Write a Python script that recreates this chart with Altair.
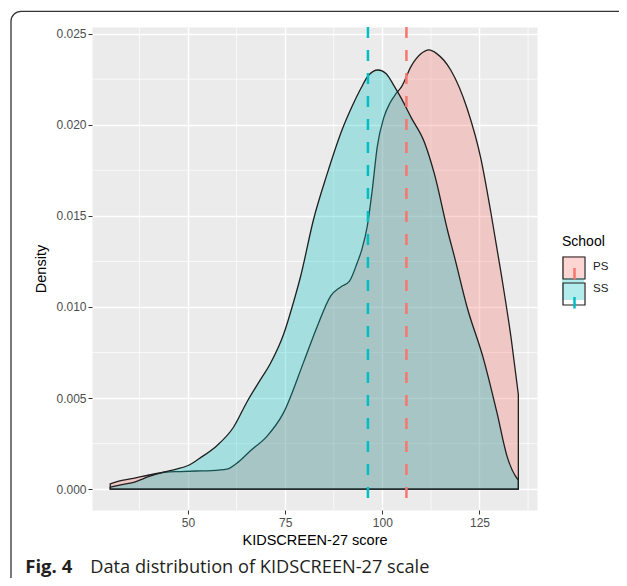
import altair as alt
import pandas as pd

# ---------------- data ----------------
schools = ["PS", "SS"]
school_colors = ["#F8766D", "#00BFC4"]
outline_keys = ["PS outline", "SS outline"]
outline_colors = ["#1f1f1f", "#1f1f1f"]
mean_keys = ["PS mean", "SS mean"]

ps_score = [30, 33, 36, 40, 44, 48, 52, 56, 60, 63, 66, 70.3, 74.6, 79.8, 83.2, 86.7,
            89.3, 91.5, 93.5, 94.8, 96.1, 97.4, 98.7, 100.4, 102, 103.5, 105, 107.4,
            110, 112, 114, 117.6, 121.8, 125.4, 128, 130.6, 133.2, 135]
ps_density = [0.0003, 0.00048, 0.0006, 0.00078, 0.00093, 0.00097, 0.001, 0.00102, 0.0011,
              0.0015, 0.0021, 0.0029, 0.0042, 0.0070, 0.0089, 0.0106, 0.0111, 0.0114,
              0.0124, 0.0132, 0.0144, 0.0164, 0.0188, 0.0204, 0.0212, 0.0217, 0.0221,
              0.0232, 0.0239, 0.0241, 0.0239, 0.0230, 0.0209, 0.0181, 0.0151, 0.0118,
              0.0082, 0.0052]

ss_score = [30, 33, 36, 40, 44, 47, 50, 53, 57.5, 61.7, 65.2, 68.6, 71.2, 74.6, 77.2, 79,
            82.3, 85.8, 89.6, 92.2, 94.5, 96.4, 98.9, 101, 103.1, 105, 107.4, 110.9,
            113.4, 116.9, 118.5, 121.8, 126.1, 129.5, 132.1, 134.3, 135]
ss_density = [0.00012, 0.00025, 0.00038, 0.0007, 0.00095, 0.0011, 0.0013, 0.0017, 0.0024,
              0.0034, 0.0048, 0.0060, 0.0069, 0.0085, 0.0103, 0.0117, 0.0148, 0.0173,
              0.0197, 0.0210, 0.0220, 0.0227, 0.0230, 0.0228, 0.0221, 0.0214, 0.0204,
              0.0190, 0.0173, 0.0141, 0.0128, 0.0100, 0.0071, 0.0042, 0.0018, 0.0007,
              0.0005]

mean_score = [106.2, 96.3]   # PS, SS dashed lines

x_major = [50, 75, 100, 125]
x_minor = [37.5, 62.5, 87.5, 112.5, 137.5]
y_major = [0, 0.005, 0.01, 0.015, 0.02, 0.025]
y_minor = [0.0025, 0.0075, 0.0125, 0.0175, 0.0225]

caption_bold = ["Fig. 4"]
caption_text = ["Data distribution of KIDSCREEN-27 scale"]

# ---------------- tables ----------------
ps_df = pd.DataFrame({"score": ps_score, "density": ps_density,
                      "School": schools[0], "Outline": outline_keys[0]})
ss_df = pd.DataFrame({"score": ss_score, "density": ss_density,
                      "School": schools[1], "Outline": outline_keys[1]})
mean_df = pd.DataFrame({"score": mean_score, "Mean": mean_keys})
xminor_df = pd.DataFrame({"v": x_minor})
yminor_df = pd.DataFrame({"v": y_minor})

FONT = "Liberation Sans"
W, H = 445, 483
LX, LY = 470, 208          # legend anchor (plot coords)
ENTRY_Y = LY + 21          # top of the legend keys
ROWPAD = -4

x_scale = alt.Scale(domain=[25.3, 139.8], nice=False, zero=False)
y_scale = alt.Scale(domain=[-0.00114, 0.02536], nice=False, zero=False)
fill_scale = alt.Scale(domain=schools, range=school_colors)
outline_scale = alt.Scale(domain=outline_keys, range=outline_colors)
mean_scale = alt.Scale(domain=mean_keys, range=school_colors)

x_axis = alt.Axis(values=x_major, title="KIDSCREEN-27 score", labelFont=FONT,
                  labelFontSize=12, labelColor="#4D4D4D", labelPadding=3,
                  tickColor="#333333", tickSize=4, tickWidth=1, domain=False,
                  grid=True, gridColor="white", gridWidth=1.4,
                  titleFont=FONT, titleFontSize=14.5, titleFontWeight="normal",
                  titleColor="black", titlePadding=5)
y_axis = alt.Axis(values=y_major, format=".3f", title="Density", labelFont=FONT,
                  labelFontSize=12, labelColor="#4D4D4D", labelPadding=2,
                  tickColor="#333333", tickSize=4, tickWidth=1, domain=False,
                  grid=True, gridColor="white", gridWidth=1.4,
                  titleFont=FONT, titleFontSize=14.5, titleFontWeight="normal",
                  titleColor="black", titleX=-44)

fill_legend = alt.Legend(title="School", orient="none", legendX=LX, legendY=LY,
                         symbolType="square", symbolSize=484, padding=0,
                         symbolOpacity=0.3, symbolStrokeWidth=0,
                         titleFont=FONT, titleFontSize=14, titleFontWeight="normal",
                         titleColor="black", titlePadding=7,
                         labelFont=FONT, labelFontSize=11.5, labelColor="#222222",
                         labelOffset=9, rowPadding=ROWPAD)
outline_legend = alt.Legend(title=None, orient="none", legendX=LX, legendY=ENTRY_Y,
                            symbolType="square", symbolSize=484, padding=0,
                            symbolStrokeWidth=1.2, symbolFillColor="transparent",
                            labelExpr="''", labelFontSize=11.5, labelOffset=9,
                            rowPadding=ROWPAD)
line_legend = alt.Legend(title=None, orient="none", legendX=LX, legendY=ENTRY_Y,
                         symbolType="M0,-0.05V1", symbolSize=484, padding=0,
                         symbolStrokeWidth=2.5, symbolDash=[1, 0],
                         symbolFillColor="transparent",
                         labelExpr="''", labelFontSize=11.5, labelOffset=9,
                         rowPadding=ROWPAD)

minor_x = alt.Chart(xminor_df).mark_rule(color="white", strokeWidth=0.7).encode(
    x=alt.X("v:Q", scale=x_scale, axis=x_axis))
minor_y = alt.Chart(yminor_df).mark_rule(color="white", strokeWidth=0.7).encode(
    y=alt.Y("v:Q", scale=y_scale, axis=y_axis))

def area(df):
    return alt.Chart(df).mark_area(
        interpolate="monotone", fillOpacity=0.3, strokeWidth=1.3
    ).encode(
        x=alt.X("score:Q", scale=x_scale, axis=x_axis),
        y=alt.Y("density:Q", scale=y_scale, axis=y_axis, stack=None),
        y2=alt.Y2(datum=0),
        fill=alt.Fill("School:N", scale=fill_scale, legend=fill_legend),
        stroke=alt.Stroke("Outline:N", scale=outline_scale, legend=outline_legend),
    )

ps_area = area(ps_df)
ss_area = area(ss_df)

rules = alt.Chart(mean_df).mark_rule(strokeWidth=2.5, strokeDash=[11, 12]).encode(
    x=alt.X("score:Q", scale=x_scale, axis=x_axis),
    color=alt.Color("Mean:N", scale=mean_scale, legend=line_legend),
)

frame = alt.Chart(pd.DataFrame({"k": [0]})).mark_rect(
    fill="transparent", stroke="#333333", strokeWidth=1.3, cornerRadius=10
).encode(x=alt.value(-81), x2=alt.value(560), y=alt.value(-15.7), y2=alt.value(562))

cap1 = alt.Chart(pd.DataFrame({"t": caption_bold})).mark_text(
    font="Open Sans", fontSize=18.5, fontWeight="bold", align="left",
    baseline="alphabetic", color="#231F20"
).encode(text="t:N", x=alt.value(-66.7), y=alt.value(545.5))
cap2 = alt.Chart(pd.DataFrame({"t": caption_text})).mark_text(
    font="Open Sans", fontSize=18.2, align="left", baseline="alphabetic",
    color="#231F20"
).encode(text="t:N", x=alt.value(-1.7), y=alt.value(545.5))

chart = alt.layer(minor_x, minor_y, ps_area, ss_area, rules, frame, cap1, cap2).properties(
    width=W, height=H,
    padding={"left": 84, "top": 19, "right": 82, "bottom": 68},
    autosize=alt.AutoSizeParams(type="none"),
    background="white",
).configure_view(
    fill="#EBEBEB", stroke="transparent"
)

chart.save("out.html", embed_options={"renderer": "svg", "actions": False})
